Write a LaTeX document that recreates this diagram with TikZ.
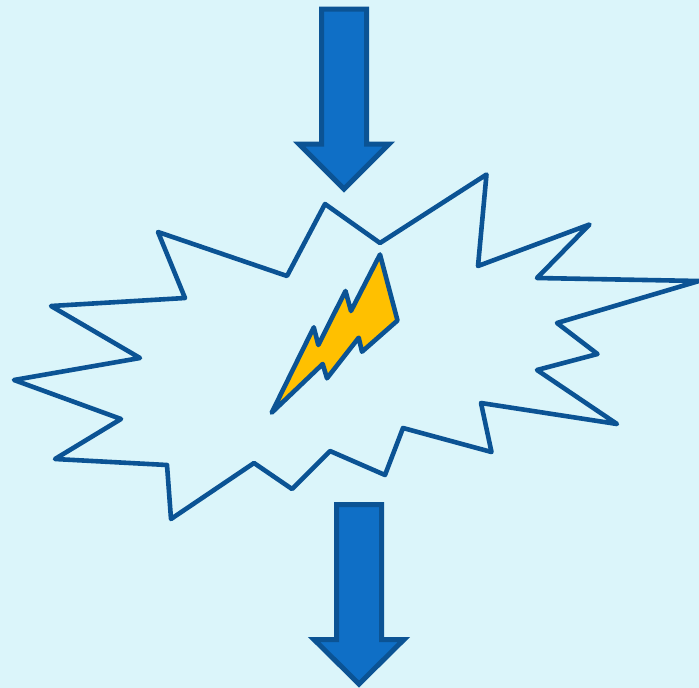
\documentclass[tikz,border=0pt]{standalone}
\definecolor{bgc}{HTML}{DBF5FA}
\definecolor{edgec}{HTML}{0B5394}
\definecolor{arrowc}{HTML}{0F6FC6}
\definecolor{arrowe}{HTML}{0B5394}
\definecolor{boltc}{HTML}{FFC000}
\tikzset{
 shapeline/.style={draw=edgec,line width=4.6pt,line join=round},
 bigarrow/.style={fill=arrowc,draw=arrowe,line width=5pt,line join=miter,miter limit=10}
}
\begin{document}
\begin{tikzpicture}[x=1pt,y=-1pt]
\useasboundingbox (0,0) rectangle (699,688);
\fill[bgc] (0,0) rectangle (699,688);
\draw[bigarrow] (321.5,9)--(366.5,9)--(366.5,144)--(389,144)--(344,189)--(299,144)--(321.5,144)--cycle;
\draw[bigarrow] (336.5,504.5)--(381.5,504.5)--(381.5,639.5)--(404,639.5)--(359,684)--(314,639.5)--(336.5,639.5)--cycle;
\draw[shapeline] (325,204)--(380,243)--(486.5,174.5)--(478,266)--(589.5,224.5)--(537,278)--(699,281)--(557,323)--(597.5,354)--(537,370)--(617,424)--(481,403)--(491.5,452)--(403,428)--(385,475)--(330,451)--(292,489)--(254,463)--(171,519)--(167,465)--(55,459)--(121,419)--(14,380)--(140,358)--(51,306)--(185,298)--(158,232)--(287,276)--cycle;
\draw[shapeline,fill=boltc] (380,254.5)--(397.5,320.5)--(362,351.7)--(358.7,337.7)--(327,378.3)--(322.7,364)--(271.7,412.7)--(313.8,327.3)--(318.3,345)--(345.5,291)--(351,311)--cycle;
\end{tikzpicture}
\end{document}
